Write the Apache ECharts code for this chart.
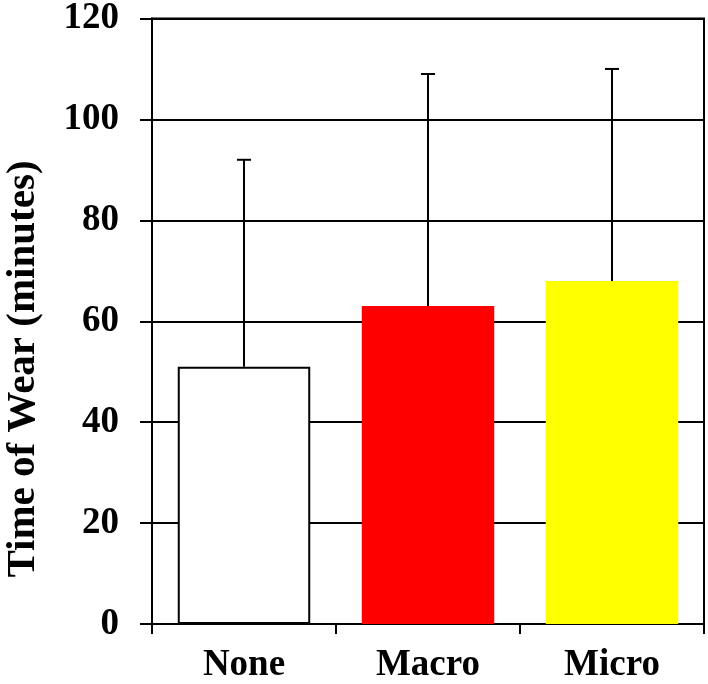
<!DOCTYPE html>
<html>
<head>
<meta charset="utf-8">
<script src="https://cdn.jsdelivr.net/npm/echarts@6/dist/echarts.min.js"></script>
<style>
  html, body { margin: 0; padding: 0; background: #fff; }
  #chart { width: 708px; height: 684px; }
</style>
</head>
<body>
<div id="chart"></div>
<script>
// data
const categories = ["None", "Macro", "Micro"];
const meanValues = [51, 63, 68];
const upperErrors = [92, 109, 110];   // top of the error bar
const barColors = ["#ffffff", "#ff0000", "#ffff00"];
const yTicks = [0, 20, 40, 60, 80, 100, 120];

const font = "Liberation Serif, Times New Roman, serif";

const chart = echarts.init(document.getElementById("chart"));

chart.setOption({
  animation: false,
  backgroundColor: "#fff",
  grid: {
    left: 152, right: 4, top: 15, bottom: 59,
    show: true, borderColor: "#000", borderWidth: 2
  },
  graphic: [{
    type: "text",
    x: 23, y: 369,
    rotation: Math.PI / 2,
    style: {
      text: "Time of Wear (minutes)",
      font: "bold 41px " + font,
      fill: "#000",
      textAlign: "center",
      textVerticalAlign: "middle"
    }
  }],
  xAxis: {
    type: "category",
    data: categories,
    axisLine: { lineStyle: { color: "#000", width: 2 } },
    axisTick: { show: true, length: 10, inside: false, lineStyle: { color: "#000", width: 2 } },
    axisLabel: {
      color: "#000", fontFamily: font, fontWeight: "bold", fontSize: 37, margin: 23
    },
    splitLine: { show: false }
  },
  yAxis: {
    type: "value",
    min: yTicks[0],
    max: yTicks[yTicks.length - 1],
    interval: 20,
    axisLine: { show: true, lineStyle: { color: "#000", width: 2 } },
    axisTick: { show: true, length: 12, inside: false, lineStyle: { color: "#000", width: 2 } },
    axisLabel: {
      color: "#000", fontFamily: font, fontWeight: "bold", fontSize: 37, margin: 33
    },
    splitLine: { show: true, lineStyle: { color: "#000", width: 2 } }
  },
  series: [
    {
      type: "bar",
      barWidth: "72%",
      data: meanValues.map((v, i) => ({
        value: v,
        itemStyle: {
          color: barColors[i],
          borderColor: i === 0 ? "#000" : barColors[i],
          borderWidth: i === 0 ? 2 : 0
        }
      })),
      z: 2
    },
    {
      // upper error bars only
      type: "custom",
      data: meanValues.map((v, i) => [i, v, upperErrors[i]]),
      z: 3,
      renderItem: function (params, api) {
        const low = api.coord([api.value(0), api.value(1)]);
        const high = api.coord([api.value(0), api.value(2)]);
        const half = 7;
        const style = { stroke: "#000", lineWidth: 2 };
        return {
          type: "group",
          children: [
            { type: "line", shape: { x1: low[0], y1: low[1], x2: high[0], y2: high[1] }, style: style },
            { type: "line", shape: { x1: high[0] - half, y1: high[1], x2: high[0] + half, y2: high[1] }, style: style }
          ]
        };
      }
    }
  ]
});
</script>
</body>
</html>
